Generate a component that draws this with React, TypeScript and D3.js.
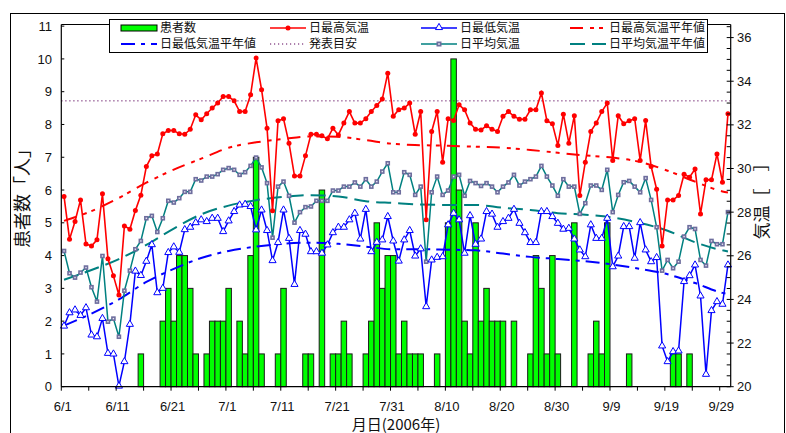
import React from "react";
import * as d3 from "d3";

const W = 786;
const H = 433;

// --- data (day index 0 = 6/1 ... 121 = 9/30) ---
const tickLabels = ["6/1", "6/11", "6/21", "7/1", "7/11", "7/21", "7/31", "8/10", "8/20", "8/30", "9/9", "9/19", "9/29"];

const patients = [
  0, 0, 0, 0, 0, 0, 0, 0, 0, 0, 0, 0, 0, 0, 1, 0, 0, 0, 2, 3, 2, 4, 4, 3, 1,
  0, 1, 2, 2, 2, 3, 0, 2, 1, 4, 7, 1, 0, 0, 1, 3, 0, 0, 0, 1, 1, 0, 6, 0, 1,
  1, 2, 1, 0, 0, 1, 2, 5, 3, 4, 4, 1, 2, 1, 1, 1, 0, 0, 1, 0, 5, 10, 6, 2, 1,
  5, 2, 3, 2, 2, 2, 0, 2, 0, 0, 1, 4, 3, 1, 4, 1, 0, 0, 5, 0, 0, 1, 2, 1, 5,
  0, 0, 0, 1, 0, 0, 0, 0, 0, 0, 0, 1, 1, 0, 1, 0, 0, 0, 0, 0, 0, 0,
];

const maxTemp = [
  28.72, 26.76, 27.57, 28.56, 26.54, 26.45, 26.73, 28.84, 25.86, 25.08, 24.2, 27.37, 27.22, 28.07, 28.78, 30.09, 30.58, 30.66, 31.59, 31.74, 31.74, 31.59, 31.57, 31.8, 32.46,
  32.23, 32.51, 32.77, 33.0, 33.3, 33.3, 33.1, 32.61, 32.61, 33.38, 35.06, 33.61, 31.85, 28.06, 32.19, 32.28, 31.16, 29.66, 29.66, 30.58, 31.57, 31.57, 31.5, 31.36, 31.85,
  31.54, 32.08, 32.61, 32.08, 32.08, 32.28, 32.61, 32.89, 33.18, 34.37, 32.39, 32.69, 32.77, 33.0, 31.57, 32.61, 27.65, 31.7, 32.61, 30.29, 32.28, 32.2, 32.92, 32.69, 32.08,
  31.8, 31.77, 31.96, 31.8, 31.7, 32.39, 32.61, 32.39, 32.26, 32.26, 32.69, 32.69, 33.46, 32.19, 32.05, 31.06, 32.49, 31.16, 32.42, 28.76, 30.29, 31.7, 32.08, 32.61, 33.0,
  30.37, 32.42, 32.05, 32.19, 32.28, 30.37, 32.2, 30.09, 29.05, 26.45, 28.56, 28.56, 28.76, 29.74, 29.6, 29.98, 27.92, 29.48, 29.48, 30.67, 29.37, 32.51,
];

const minTemp = [
  22.78, 23.39, 23.52, 23.27, 23.62, 22.37, 22.29, 23.13, 21.53, 21.5, 20.03, 21.15, 22.86, 25.3, 25.1, 25.75, 26.51, 24.31, 24.51, 26.15, 26.41, 26.16, 27.2, 27.31, 27.52,
  27.65, 27.57, 27.72, 27.72, 27.11, 27.6, 28.03, 28.33, 28.36, 28.26, 27.19, 28.1, 27.16, 25.78, 26.61, 28.1, 26.8, 24.69, 27.16, 26.99, 26.19, 26.19, 26.12, 26.5, 27.06,
  27.31, 27.31, 27.65, 27.95, 26.77, 28.13, 26.19, 26.62, 26.73, 27.8, 26.68, 25.76, 26.73, 27.16, 25.99, 26.32, 23.67, 25.81, 25.93, 25.96, 27.42, 27.95, 27.65, 26.12, 27.84,
  26.53, 26.77, 28.03, 27.91, 27.31, 27.57, 27.72, 28.13, 27.49, 27.06, 26.61, 26.61, 28.03, 28.03, 27.8, 27.49, 27.22, 27.26, 26.77, 26.27, 25.96, 27.42, 26.8, 26.8, 27.72,
  25.5, 25.99, 27.34, 27.34, 25.89, 27.52, 26.27, 25.73, 25.92, 21.87, 21.15, 21.61, 21.64, 24.82, 25.09, 25.58, 24.16, 20.57, 23.49, 23.9, 23.78, 25.58,
];

const meanTemp = [
  26.22, 25.2, 25.0, 25.23, 25.46, 24.56, 23.9, 25.99, 22.98, 23.12, 22.29, 24.4, 25.32, 26.3, 26.68, 27.72, 27.83, 27.09, 27.72, 28.52, 28.44, 28.64, 28.93, 28.93, 29.51,
  29.45, 29.63, 29.63, 29.74, 29.94, 30.02, 29.94, 29.71, 29.83, 30.12, 30.5, 30.05, 29.33, 26.83, 29.17, 29.4, 28.75, 27.52, 28.0, 28.23, 28.26, 28.52, 28.52, 28.52, 28.99,
  28.99, 29.17, 29.17, 29.36, 29.17, 29.51, 29.17, 29.4, 29.86, 30.24, 28.91, 28.91, 29.83, 29.71, 28.79, 29.17, 25.73, 28.91, 29.63, 28.79, 28.99, 29.63, 29.71, 28.75, 29.43,
  29.33, 29.2, 29.33, 29.17, 28.91, 29.17, 29.36, 29.71, 29.22, 29.4, 29.51, 29.63, 30.12, 29.63, 29.22, 28.75, 29.51, 29.17, 29.17, 27.92, 28.41, 29.22, 29.22, 29.02, 29.94,
  28.0, 28.79, 29.37, 29.43, 29.17, 28.91, 29.56, 28.56, 27.31, 25.32, 25.81, 25.43, 25.73, 26.88, 27.31, 27.23, 25.81, 25.55, 26.68, 26.53, 26.53, 28.0,
];

// normals, read every 5 days
const normDays = [0, 5, 10, 15, 20, 25, 30, 35, 40, 45, 50, 55, 60, 65, 70, 75, 80, 85, 90, 95, 100, 105, 110, 115, 120, 121];
const maxNormal = [27.6, 28.05, 28.65, 29.35, 29.95, 30.45, 30.95, 31.2, 31.35, 31.47, 31.45, 31.3, 31.13, 31.07, 31.04, 31.0, 30.95, 30.85, 30.72, 30.6, 30.5, 30.3, 29.9, 29.4, 28.95, 28.9];
const minNormal = [22.8, 23.35, 24.0, 24.8, 25.4, 25.9, 26.22, 26.42, 26.55, 26.6, 26.55, 26.42, 26.3, 26.3, 26.28, 26.25, 26.1, 25.95, 25.85, 25.75, 25.6, 25.4, 25.15, 24.75, 24.3, 24.25];
const meanNormal = [24.9, 25.35, 25.85, 26.5, 27.25, 27.9, 28.3, 28.55, 28.7, 28.78, 28.72, 28.5, 28.42, 28.35, 28.33, 28.33, 28.2, 28.1, 27.95, 27.88, 27.75, 27.5, 27.15, 26.62, 26.25, 26.2];

const heatThreshold = 33.1;

const leftTicks = [0, 1, 2, 3, 4, 5, 6, 7, 8, 9, 10, 11];
const rightLabels = [20, 22, 24, 26, 28, 30, 32, 34, 36];

// --- styles ---
const RED = "#ff0000";
const BLUE = "#0000ff";
const TEAL = "#008080";
const PURPLE = "#5a005a";
const GREEN = "#00ff00";
const NUMFONT = "'Liberation Sans', Arial, sans-serif";
const JPFONT = "'Noto Sans CJK JP', sans-serif";

const PL = 61.3, PR = 730.7, PT = 24.5, PB = 386.7;

export default function App() {
  const x = d3.scaleLinear().domain([0, 122]).range([PL, PR]);
  const yL = d3.scaleLinear().domain([0, 11.05]).range([PB, PT]);
  const yR = d3.scaleLinear().domain([20, 36.6]).range([PB, PT]);

  const dayLine = d3.line<number>().x((_, i) => x(i + 0.5)).y((d) => yR(d));
  const normLine = (vals: number[]) =>
    d3.line<number>().x((_, i) => x(normDays[i] + 0.5)).y((d) => yR(d)).curve(d3.curveMonotoneX)(vals) || "";

  const tri = d3.symbol().type(d3.symbolTriangle).size(22)() || "";

  const xTicks = d3.range(0, 121, 5);
  const rTicks = d3.range(20, 36.51, 0.5);

  const legendItems = [
    { col: 0, row: 0, label: "患者数", kind: "bar" },
    { col: 1, row: 0, label: "日最高気温", kind: "max" },
    { col: 2, row: 0, label: "日最低気温", kind: "min" },
    { col: 3, row: 0, label: "日最高気温平年値", kind: "maxN" },
    { col: 0, row: 1, label: "日最低気温平年値", kind: "minN" },
    { col: 1, row: 1, label: "発表目安", kind: "thr" },
    { col: 2, row: 1, label: "日平均気温", kind: "mean" },
    { col: 3, row: 1, label: "日平均気温平年値", kind: "meanN" },
  ];
  const colX = [121, 270, 421, 570];
  const rowY = [28, 44];

  const legendSample = (kind: string, x0: number, y0: number) => {
    const x1 = x0 + 36;
    const mid = (x0 + x1) / 2;
    switch (kind) {
      case "bar":
        return <rect x={x0} y={y0 - 3} width={36} height={6} fill={GREEN} stroke="#000" strokeWidth={1} />;
      case "max":
        return (
          <g>
            <line x1={x0} x2={x1} y1={y0} y2={y0} stroke={RED} strokeWidth={1.5} />
            <circle cx={mid} cy={y0} r={2.5} fill={RED} />
          </g>
        );
      case "min":
        return (
          <g>
            <line x1={x0} x2={x1} y1={y0} y2={y0} stroke={BLUE} strokeWidth={1.5} />
            <path d={tri} transform={`translate(${mid},${y0 - 0.5})`} fill="#fff" stroke={BLUE} strokeWidth={1} />
          </g>
        );
      case "mean":
        return (
          <g>
            <line x1={x0} x2={x1} y1={y0} y2={y0} stroke={TEAL} strokeWidth={1.5} />
            <rect x={mid - 2.5} y={y0 - 2.5} width={5} height={5} fill="#6e6e9e" />
            <rect x={mid - 0.8} y={y0 - 0.8} width={1.6} height={1.6} fill="#e8e8f4" />
          </g>
        );
      case "maxN":
        return <line x1={x0} x2={x1} y1={y0} y2={y0} stroke={RED} strokeWidth={2} strokeDasharray="13,7,4,5,4,7" />;
      case "minN":
        return <line x1={x0} x2={x1} y1={y0} y2={y0} stroke={BLUE} strokeWidth={2} strokeDasharray="14,6,4,6" />;
      case "meanN":
        return <line x1={x0} x2={x1} y1={y0} y2={y0} stroke={TEAL} strokeWidth={2} strokeDasharray="15,7" />;
      case "thr":
        return <line x1={x0} x2={x1} y1={y0} y2={y0} stroke={PURPLE} strokeWidth={1} strokeDasharray="1.2,2.8" />;
    }
    return null;
  };

  return (
    <div style={{ position: "absolute", left: 0, top: 0 }}>
      <svg width={W} height={H} style={{ display: "block", background: "#fff" }}>
        {/* outer frame */}
        <rect x={10.5} y={13.5} width={774} height={440} fill="none" stroke="#000" strokeWidth={1} />

        {/* bars */}
        {patients.map((p, i) =>
          p > 0 ? (
            <rect
              key={"b" + i}
              x={x(i)}
              y={yL(p)}
              width={x(i + 1) - x(i)}
              height={yL(0) - yL(p)}
              fill={GREEN}
              stroke="#1a1a1a"
              strokeWidth={1}
            />
          ) : null
        )}

        {/* threshold */}
        <line x1={PL} x2={PR} y1={yR(heatThreshold)} y2={yR(heatThreshold)} stroke={PURPLE} strokeWidth={1} strokeDasharray="1.2,2.8" />

        {/* normals */}
        <path d={normLine(maxNormal)} fill="none" stroke={RED} strokeWidth={2} strokeDasharray="13,7,4,5,4,7" />
        <path d={normLine(minNormal)} fill="none" stroke={BLUE} strokeWidth={2} strokeDasharray="14,6,4,6" />
        <path d={normLine(meanNormal)} fill="none" stroke={TEAL} strokeWidth={2} strokeDasharray="15,7" />

        {/* mean temp */}
        <path d={dayLine(meanTemp) || ""} fill="none" stroke={TEAL} strokeWidth={1.5} />
        {meanTemp.map((t, i) => (
          <g key={"m" + i}>
            <rect x={x(i + 0.5) - 2.3} y={yR(t) - 2.3} width={4.6} height={4.6} fill="#6e6e9e" />
            <rect x={x(i + 0.5) - 0.7} y={yR(t) - 0.7} width={1.4} height={1.4} fill="#e8e8f4" />
          </g>
        ))}

        {/* min temp */}
        <path d={dayLine(minTemp) || ""} fill="none" stroke={BLUE} strokeWidth={1.5} />
        {minTemp.map((t, i) => (
          <path key={"n" + i} d={tri} transform={`translate(${x(i + 0.5)},${yR(t)})`} fill="#fff" stroke={BLUE} strokeWidth={1} />
        ))}

        {/* max temp */}
        <path d={dayLine(maxTemp) || ""} fill="none" stroke={RED} strokeWidth={1.6} />
        {maxTemp.map((t, i) => (
          <circle key={"x" + i} cx={x(i + 0.5)} cy={yR(t)} r={2.5} fill={RED} />
        ))}

        {/* plot frame */}
        <line x1={PL} x2={PR} y1={PT} y2={PT} stroke="#000" strokeWidth={1.2} />
        <line x1={PL} x2={PL} y1={PT} y2={PB} stroke="#000" strokeWidth={1.2} />
        <line x1={PR} x2={PR} y1={PT} y2={PB} stroke="#000" strokeWidth={1.2} />
        <line x1={PL} x2={PR} y1={PB} y2={PB} stroke="#000" strokeWidth={1.2} />

        {/* left axis */}
        {leftTicks.map((v) => (
          <g key={"l" + v}>
            <line x1={PL} x2={PL + 3} y1={yL(v)} y2={yL(v)} stroke="#000" />
            <text x={52} y={yL(v) + 4.6} textAnchor="end" fontFamily={NUMFONT} fontSize={13} fill="#111">
              {v}
            </text>
          </g>
        ))}

        {/* right axis */}
        {rTicks.map((v) => {
          const major = Math.abs(v - Math.round(v / 2) * 2) < 1e-6;
          return (
            <line key={"r" + v} x1={PR - 4} x2={major ? PR + 3 : PR} y1={yR(v)} y2={yR(v)} stroke="#000" />
          );
        })}
        {rightLabels.map((v) => (
          <text key={"rl" + v} x={737} y={yR(v) + 4.6} fontFamily={NUMFONT} fontSize={13} fill="#111">
            {v}
          </text>
        ))}

        {/* x axis */}
        {xTicks.map((d) => (
          <line key={"xt" + d} x1={x(d)} x2={x(d)} y1={PB} y2={PB + 4} stroke="#000" />
        ))}
        {tickLabels.map((lab, k) => (
          <text key={"xl" + k} x={x(k * 10) + 1.5} y={411} textAnchor="middle" fontFamily={NUMFONT} fontSize={13} fill="#111">
            {lab}
          </text>
        ))}

        {/* axis titles */}
        <text x={396} y={430} textAnchor="middle" fontFamily={JPFONT} fontSize={15} fill="#111">
          月日(2006年)
        </text>
        <text transform="translate(29,194) rotate(-90)" textAnchor="middle" fontFamily={JPFONT} fontSize={18} fill="#111">
          患者数「人」
        </text>
        <text transform="translate(768,197) rotate(-90)" textAnchor="middle" fontFamily={JPFONT} fontSize={17} fill="#111">
          気温［　］
        </text>

        {/* legend */}
        <rect x={109.5} y={19.5} width={598} height={33} fill="#fff" stroke="#000" strokeWidth={1} />
        {legendItems.map((it) => (
          <g key={it.label}>
            {legendSample(it.kind, colX[it.col], rowY[it.row])}
            <text x={colX[it.col] + 39} y={rowY[it.row] + 4.3} fontFamily={JPFONT} fontSize={12} fill="#111">
              {it.label}
            </text>
          </g>
        ))}
      </svg>
    </div>
  );
}
